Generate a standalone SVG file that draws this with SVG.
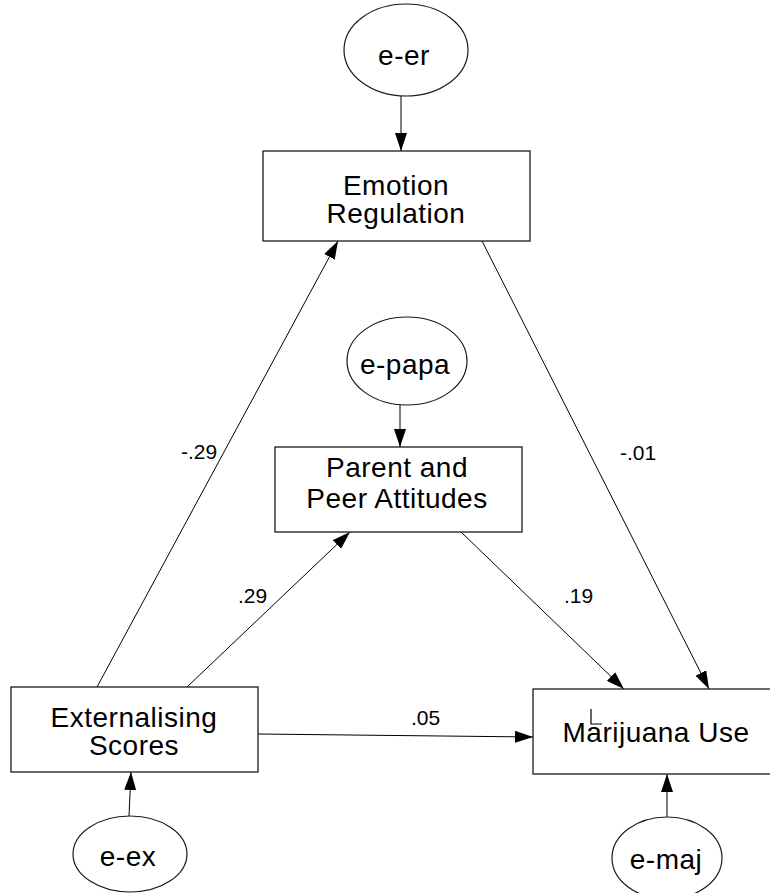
<svg xmlns="http://www.w3.org/2000/svg" width="770" height="893" viewBox="0 0 770 893">
  <style>
    .box { fill: #fff; stroke: #1a1a1a; stroke-width: 1.3; }
    .err { fill: #fff; stroke: #1a1a1a; stroke-width: 1.2; }
    .lbl { font-family: "Liberation Sans", Arial, sans-serif; font-size: 28px; letter-spacing: 0.5px; fill: #000; text-anchor: middle; }
    .coef { font-family: "Liberation Sans", Arial, sans-serif; font-size: 21px; fill: #000; }
    .path { stroke: #000; stroke-width: 1; fill: none; marker-end: url(#head); }
  </style>
  <defs>
    <marker id="head" markerUnits="userSpaceOnUse" markerWidth="18" markerHeight="12" refX="18" refY="6" orient="auto">
      <path d="M0,0 L18,6 L0,12 Z" fill="#000"/>
    </marker>
  </defs>
  <rect width="770" height="893" fill="#fff"/>

  <!-- structural paths -->
  <g id="connectors">
    <line class="path" x1="401" y1="96" x2="401" y2="151"/>
    <line class="path" x1="400" y1="405" x2="400" y2="447"/>
    <line class="path" x1="129" y1="816" x2="131" y2="772"/>
    <line class="path" x1="667" y1="817" x2="667" y2="774"/>
    <line class="path" x1="97" y1="687" x2="338" y2="241"/>
    <line class="path" x1="482" y1="241" x2="709" y2="689"/>
    <line class="path" x1="187" y1="687" x2="350" y2="532"/>
    <line class="path" x1="461" y1="532" x2="624" y2="689"/>
    <line class="path" x1="258" y1="734" x2="533" y2="737"/>
    <text class="coef" x="181" y="459">-.29</text>
    <text class="coef" x="620" y="460">-.01</text>
    <text class="coef" x="238" y="603">.29</text>
    <text class="coef" x="564" y="603">.19</text>
    <text class="coef" x="411" y="725">.05</text>
  </g>

  <g id="e-er">
    <ellipse class="err" cx="406" cy="50" rx="62" ry="46"/>
    <text class="lbl" x="404" y="65">e-er</text>
  </g>

  <g id="emotion-regulation">
    <rect class="box" x="263" y="151" width="267" height="90"/>
    <text class="lbl" x="396" y="195">Emotion</text>
    <text class="lbl" x="396" y="223">Regulation</text>
  </g>

  <g id="e-papa">
    <ellipse class="err" cx="407" cy="361" rx="60" ry="44"/>
    <text class="lbl" x="405" y="374">e-papa</text>
  </g>

  <g id="parent-peer-attitudes">
    <rect class="box" x="275" y="447" width="247" height="85"/>
    <text class="lbl" x="397" y="477">Parent and</text>
    <text class="lbl" x="397" y="508">Peer Attitudes</text>
  </g>

  <g id="externalising-scores">
    <rect class="box" x="11" y="687" width="247" height="85"/>
    <text class="lbl" x="134" y="727">Externalising</text>
    <text class="lbl" x="134" y="755">Scores</text>
  </g>

  <g id="marijuana-use">
    <rect class="box" x="533" y="689" width="250" height="85"/>
    <text class="lbl" x="656" y="742">Marijuana Use</text>
    <path d="M591,709 V724 H602" stroke="#000" stroke-width="1.2" fill="none"/>
  </g>

  <g id="e-ex">
    <ellipse class="err" cx="130" cy="854" rx="57" ry="38"/>
    <text class="lbl" x="128" y="866">e-ex</text>
  </g>

  <g id="e-maj">
    <ellipse class="err" cx="667" cy="858" rx="55" ry="41"/>
    <text class="lbl" x="666" y="869">e-maj</text>
  </g>
</svg>
